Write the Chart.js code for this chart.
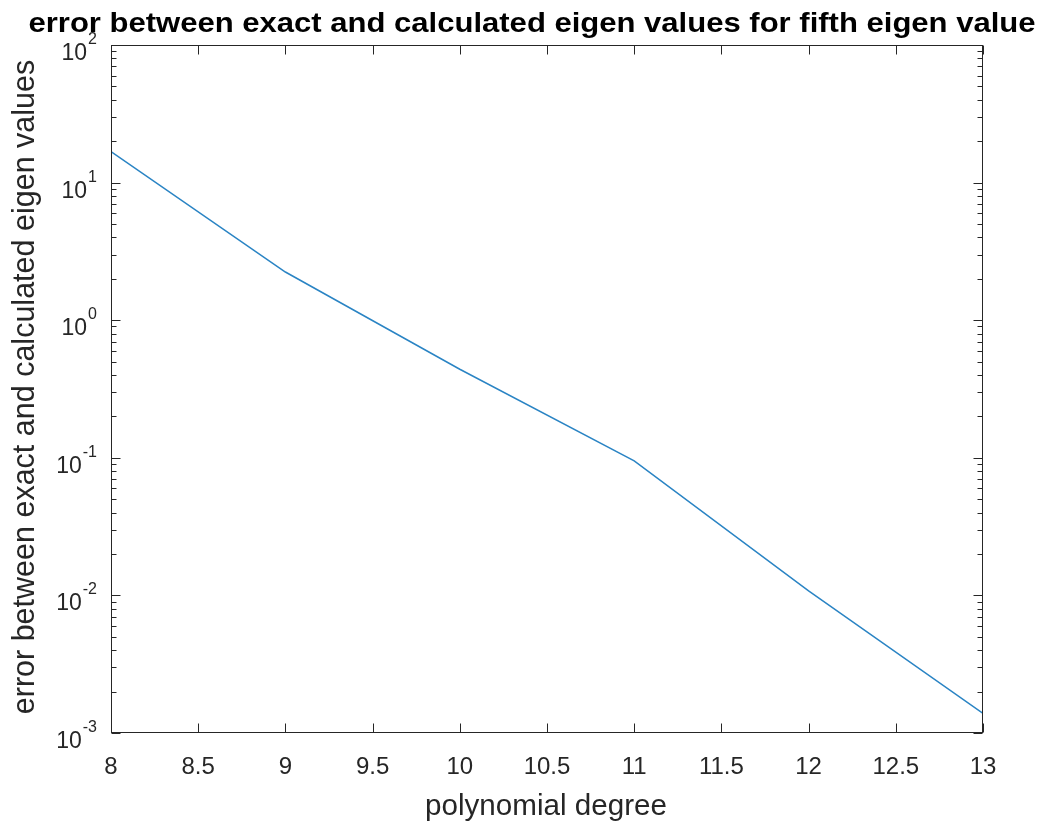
<!doctype html>
<html>
<head>
<title>Eigen value error</title>
<script src="https://cdn.jsdelivr.net/npm/chart.js@4/dist/chart.umd.min.js"></script>
<style>
  body { margin: 0; background: #fff; }
  canvas { display: block; }
</style>
</head>
<body>
<canvas id="canvas" width="1043" height="825"></canvas>
<script>
// data
var degree = [8, 9, 10, 11, 12, 13];
var errorValues = [16.8, 2.24, 0.44, 0.095, 0.0108, 0.00139];
var xTicks = [8, 8.5, 9, 9.5, 10, 10.5, 11, 11.5, 12, 12.5, 13];
var yExponents = [-3, -2, -1, 0, 1, 2];
var titleText = 'error between exact and calculated eigen values for fifth eigen value';
var xLabel = 'polynomial degree';
var yLabel = 'error between exact and calculated eigen values';

var FONT = 'Liberation Sans, Arial, sans-serif';
var AXIS = '#262626';

// text drawn to a given width: squeeze = scale glyphs horizontally, else resize font
function fitText(ctx, str, weight, size, x, y, width, angle, squeeze) {
  ctx.save();
  ctx.translate(x, y);
  if (angle) ctx.rotate(angle);
  ctx.font = weight + size + 'px ' + FONT;
  var w = ctx.measureText(str).width;
  if (squeeze) {
    ctx.scale(width / w, 1);
  } else {
    ctx.font = weight + (size * width / w).toFixed(1) + 'px ' + FONT;
  }
  ctx.textAlign = 'center';
  ctx.fillText(str, 0, 0);
  ctx.restore();
}

var matlabAxes = {
  id: 'matlabAxes',
  afterDraw: function(chart) {
    var ctx = chart.ctx, a = chart.chartArea;
    var xs = chart.scales.x, ys = chart.scales.y;
    var L = Math.round(a.left) + 0.5, R = Math.round(a.right) - 0.5;
    var T = Math.round(a.top) + 0.5, B = Math.round(a.bottom) - 0.5;
    ctx.save();
    ctx.strokeStyle = AXIS;
    ctx.lineWidth = 1;
    ctx.strokeRect(L, T, R - L, B - T);

    ctx.beginPath();
    // x ticks, top and bottom, pointing in
    xTicks.forEach(function(v) {
      var px = Math.round(xs.getPixelForValue(v)) + 0.5;
      ctx.moveTo(px, B); ctx.lineTo(px, B - 9);
      ctx.moveTo(px, T); ctx.lineTo(px, T + 9);
    });
    // y ticks, major and minor, left and right
    yExponents.forEach(function(e) {
      for (var m = 1; m <= 9; m++) {
        var v = m * Math.pow(10, e);
        if (v > ys.max * 1.0001) break;
        var py = Math.round(ys.getPixelForValue(v)) + 0.5;
        var len = m === 1 ? 9 : 5;
        ctx.moveTo(L, py); ctx.lineTo(L + len, py);
        ctx.moveTo(R, py); ctx.lineTo(R - len, py);
      }
    });
    ctx.stroke();

    // x tick labels
    ctx.fillStyle = AXIS;
    ctx.font = '24px ' + FONT;
    ctx.textAlign = 'center';
    ctx.textBaseline = 'alphabetic';
    xTicks.forEach(function(v) {
      ctx.fillText(String(v), xs.getPixelForValue(v), 774);
    });

    // y tick labels 10^n
    yExponents.forEach(function(e) {
      var py = ys.getPixelForValue(Math.pow(10, e));
      ctx.font = '16px ' + FONT;
      ctx.textAlign = 'right';
      var ex = String(e);
      var ew = ctx.measureText(ex).width;
      ctx.fillText(ex, 97, py - 1);
      ctx.font = '23px ' + FONT;
      ctx.fillText('10', 97 - ew - 1, py + 15);
    });

    // titles
    ctx.fillStyle = '#000';
    fitText(ctx, titleText, 'bold ', 28, 532, 32, 1007, 0, true);
    ctx.fillStyle = AXIS;
    fitText(ctx, xLabel, '', 24, 546, 815, 242, 0, false);
    fitText(ctx, yLabel, '', 24, 34, 387, 655, -Math.PI / 2, false);
    ctx.restore();
  }
};

var points = degree.map(function(d, i) { return { x: d, y: errorValues[i] }; });

var ctx = document.getElementById('canvas').getContext('2d');
new Chart(ctx, {
  type: 'scatter',
  data: {
    datasets: [{
      data: points,
      showLine: true,
      borderColor: '#2a84c4',
      borderWidth: 1.5,
      pointRadius: 0,
      tension: 0,
      fill: false
    }]
  },
  options: {
    responsive: false,
    animation: false,
    layout: { padding: { left: 111, top: 45, right: 60, bottom: 92 } },
    plugins: { legend: { display: false }, title: { display: false }, tooltip: { enabled: false } },
    scales: {
      x: { type: 'linear', min: 8, max: 13, display: false },
      y: { type: 'logarithmic', min: 0.001, max: 100, display: false }
    }
  },
  plugins: [matlabAxes]
});
</script>
</body>
</html>
